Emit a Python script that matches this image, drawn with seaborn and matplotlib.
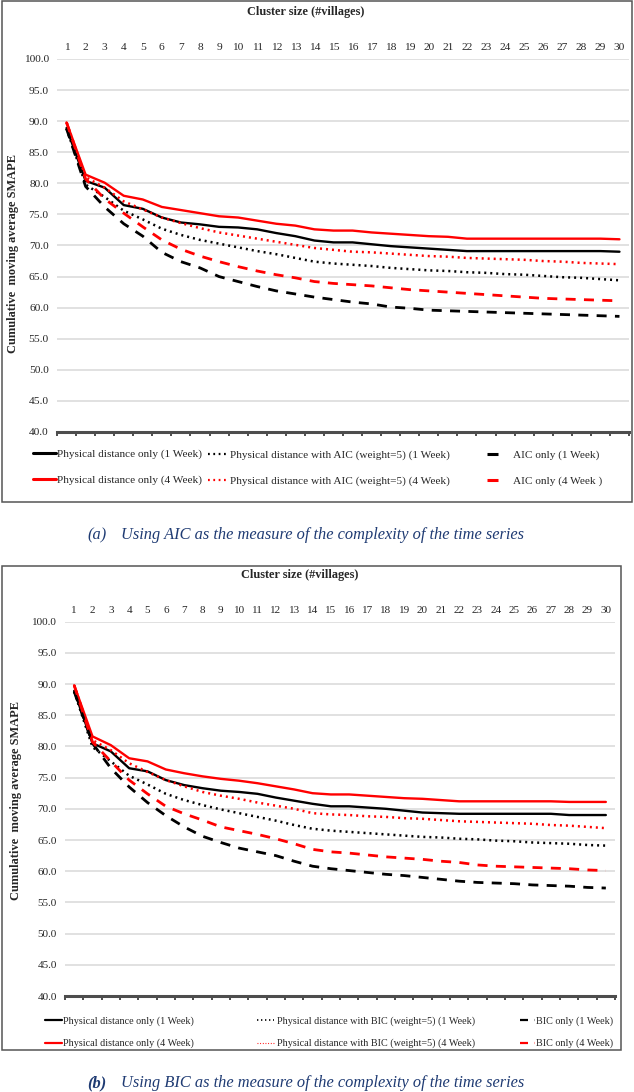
import numpy as np
import matplotlib
matplotlib.use("Agg")
import matplotlib.pyplot as plt
from matplotlib.lines import Line2D
from matplotlib.patches import Rectangle
from matplotlib.ticker import FormatStrFormatter
import seaborn as sns

# ── style ───────────────────────────────────────────────────
sns.set_style("white")
plt.rcParams.update({
    "font.family": ["Liberation Serif", "DejaVu Serif"],
    "axes.spines.top": False,
    "axes.spines.right": False,
    "axes.spines.left": False,
})
BLACK = "#000000"
RED = "#FF0000"
GRID = "#D9D9D9"
AXIS = "#4D4D4D"
CAPTION = "#1F3B73"

W, H = 634, 1092

# ── data ────────────────────────────────────────────────────
clusters = list(range(1, 31))

# (a) AIC
a_pd_1w = [88.9, 80.4, 79.3, 76.5, 75.9, 74.5, 73.7, 73.4, 73.0, 72.9,
           72.6, 72.0, 71.5, 70.8, 70.5, 70.5, 70.2, 69.9, 69.7, 69.5,
           69.3, 69.1, 69.1, 69.1, 69.1, 69.1, 69.1, 69.1, 69.1, 69.0]
a_pd_4w = [89.8, 81.4, 80.1, 78.0, 77.4, 76.2, 75.7, 75.2, 74.7, 74.5,
           74.0, 73.5, 73.2, 72.6, 72.4, 72.4, 72.1, 71.9, 71.7, 71.5,
           71.4, 71.1, 71.1, 71.1, 71.1, 71.1, 71.1, 71.1, 71.1, 71.0]
a_pdaic_1w = [88.8, 79.8, 77.8, 75.6, 74.2, 72.7, 71.7, 70.9, 70.3, 69.7,
              69.1, 68.6, 68.0, 67.4, 67.1, 66.9, 66.7, 66.4, 66.2, 66.0,
              65.9, 65.7, 65.6, 65.4, 65.3, 65.1, 64.9, 64.8, 64.6, 64.4]
a_pdaic_4w = [89.8, 81.0, 79.3, 77.1, 75.8, 74.5, 73.6, 72.8, 72.1, 71.6,
              71.1, 70.6, 70.1, 69.6, 69.3, 69.0, 68.9, 68.7, 68.5, 68.3,
              68.2, 68.0, 67.9, 67.8, 67.7, 67.5, 67.4, 67.2, 67.1, 67.0]
a_aic_1w = [88.8, 79.5, 76.2, 73.5, 71.5, 68.9, 67.4, 66.4, 65.0, 64.2,
            63.4, 62.7, 62.2, 61.7, 61.3, 60.9, 60.6, 60.1, 59.9, 59.6,
            59.5, 59.4, 59.3, 59.2, 59.1, 59.0, 58.9, 58.8, 58.7, 58.6]
a_aic_4w = [89.8, 80.7, 77.5, 75.2, 73.0, 70.9, 69.4, 68.3, 67.4, 66.6,
            65.9, 65.3, 64.8, 64.2, 63.9, 63.7, 63.5, 63.2, 62.9, 62.7,
            62.5, 62.3, 62.1, 61.9, 61.7, 61.5, 61.4, 61.3, 61.2, 61.1]

# (b) BIC
b_pd_1w = [88.9, 80.5, 79.2, 76.5, 76.0, 74.6, 73.8, 73.3, 72.9, 72.7,
           72.4, 71.8, 71.3, 70.8, 70.4, 70.4, 70.2, 70.0, 69.7, 69.4,
           69.3, 69.2, 69.2, 69.2, 69.2, 69.2, 69.2, 69.0, 69.0, 69.0]
b_pd_4w = [89.8, 81.6, 80.2, 78.1, 77.6, 76.3, 75.7, 75.2, 74.8, 74.5,
           74.1, 73.6, 73.1, 72.5, 72.3, 72.3, 72.1, 71.9, 71.7, 71.6,
           71.4, 71.2, 71.2, 71.2, 71.2, 71.2, 71.2, 71.1, 71.1, 71.1]
b_pdbic_1w = [88.8, 79.9, 77.6, 75.3, 73.9, 72.4, 71.4, 70.6, 69.9, 69.3,
              68.7, 68.1, 67.4, 66.8, 66.5, 66.3, 66.1, 65.9, 65.7, 65.5,
              65.4, 65.2, 65.1, 64.9, 64.8, 64.6, 64.5, 64.4, 64.2, 64.1]
b_pdbic_4w = [89.8, 81.0, 79.4, 77.3, 75.9, 74.6, 73.6, 72.7, 72.1, 71.6,
              71.0, 70.5, 70.0, 69.3, 69.1, 69.0, 68.8, 68.7, 68.5, 68.4,
              68.2, 68.0, 67.9, 67.8, 67.7, 67.6, 67.4, 67.3, 67.1, 66.9]
b_bic_1w = [88.8, 80.5, 76.5, 73.5, 71.0, 68.9, 67.1, 65.6, 64.6, 63.7,
            63.1, 62.5, 61.6, 60.8, 60.4, 60.1, 59.8, 59.5, 59.3, 59.0,
            58.7, 58.4, 58.2, 58.1, 58.0, 57.8, 57.7, 57.6, 57.4, 57.3]
b_bic_4w = [89.8, 80.7, 77.6, 74.6, 72.4, 70.4, 69.2, 68.2, 67.1, 66.5,
            65.9, 65.2, 64.4, 63.5, 63.1, 62.9, 62.6, 62.3, 62.1, 61.9,
            61.6, 61.4, 61.0, 60.8, 60.7, 60.6, 60.5, 60.4, 60.2, 60.1]

y_ticks = np.arange(40, 101, 5)

SOLID = "-"
DOT = (0, (0.8, 1.6))
DASH = (0, (3.6, 3.0))


def fx(px):
    return px / W


def fy(py):
    return 1 - py / H


def draw_panel(fig, box, rect, series, title_xy, ylabel_xy, tick_fs):
    # frame around the whole panel
    x0, y0, x1, y1 = box
    fig.patches.append(Rectangle((fx(x0), fy(y1)), fx(x1 - x0), (y1 - y0) / H,
                                 transform=fig.transFigure, fill=False,
                                 edgecolor="#555555", lw=1.1))
    left, top, right, bottom = rect
    ax = fig.add_axes([fx(left), fy(bottom), fx(right - left), (bottom - top) / H])

    for vals, color, ls, lw in series:
        sns.lineplot(x=clusters, y=vals, ax=ax, color=color, linestyle=ls,
                     lw=lw, legend=False)

    ax.set_xlim(0.5, 30.5)
    ax.set_ylim(40, 100)
    ax.set_yticks(y_ticks)
    ax.yaxis.set_major_formatter(FormatStrFormatter("%.1f"))
    ax.set_xticks(clusters)
    ax.set_xticks(np.arange(0.5, 31, 1), minor=True)
    ax.set_xlabel("")
    ax.set_ylabel("")
    ax.yaxis.grid(True, color=GRID, lw=1.1)
    ax.set_axisbelow(True)
    ax.spines["bottom"].set_color(AXIS)
    ax.spines["bottom"].set_linewidth(2.2)
    ax.tick_params(axis="x", which="major", bottom=False, labelbottom=False,
                   top=True, labeltop=True, length=0, pad=5, labelsize=tick_fs)
    ax.tick_params(axis="x", which="minor", bottom=True, top=False,
                   length=3, width=1.4, color=AXIS)
    ax.tick_params(axis="y", length=0, pad=6, labelsize=tick_fs)

    fig.text(fx(title_xy[0]), fy(title_xy[1]), "Cluster size (#villages)",
             ha="center", va="center", fontsize=8.8, fontweight="bold")
    fig.text(fx(ylabel_xy[0]), fy(ylabel_xy[1]), "Cumulative  moving average SMAPE",
             ha="center", va="center", rotation=90, fontsize=8.9, fontweight="bold")
    return ax


def column_legend(fig, handles, labels, x_px, y_px, fs, spacing, hl, pad):
    fig.legend(handles, labels, loc="upper left",
               bbox_to_anchor=(fx(x_px), fy(y_px)), frameon=False,
               borderpad=0, borderaxespad=0, handlelength=hl,
               handletextpad=pad, labelspacing=spacing, fontsize=fs)


def handle(color, ls, lw):
    return Line2D([], [], color=color, linestyle=ls, lw=lw)


fig = plt.figure(figsize=(W / 100, H / 100), dpi=100)
fig.patch.set_facecolor("white")

# ── (a) ─────────────────────────────────────────────────────
series_a = [
    (a_pd_1w, BLACK, SOLID, 1.7),
    (a_pd_4w, RED, SOLID, 1.7),
    (a_pdaic_1w, BLACK, DOT, 1.8),
    (a_pdaic_4w, RED, DOT, 1.8),
    (a_aic_1w, BLACK, DASH, 2.0),
    (a_aic_4w, RED, DASH, 2.0),
]
draw_panel(fig, (2, 1, 632, 502), (57, 59, 629, 432), series_a,
           (306, 12), (13, 253), 8.2)

column_legend(fig, [handle(BLACK, SOLID, 2.2), handle(RED, SOLID, 2.2)],
              ["Physical distance only (1 Week)", "Physical distance only (4 Week)"],
              33, 449, 8.1, 1.4, 2.0, 0.1)
column_legend(fig, [handle(BLACK, DOT, 1.6), handle(RED, DOT, 1.6)],
              ["Physical distance with AIC (weight=5) (1 Week)",
               "Physical distance with AIC (weight=5) (4 Week)"],
              208, 450, 8.1, 1.4, 1.8, 0.2)
column_legend(fig, [handle(BLACK, DASH, 2.2), handle(RED, DASH, 2.2)],
              ["AIC only (1 Week)", "AIC only (4 Week )"],
              487, 450, 8.1, 1.4, 1.8, 0.5)

fig.text(fx(87), fy(535), "(a)", ha="left", va="center", fontsize=11.8,
         style="italic", color=CAPTION)
fig.text(fx(121), fy(535), "Using AIC as the measure of the complexity of the time series",
         ha="left", va="center", fontsize=11.8, style="italic", color=CAPTION)

# ── (b) ─────────────────────────────────────────────────────
series_b = [
    (b_pd_1w, BLACK, SOLID, 1.7),
    (b_pd_4w, RED, SOLID, 1.7),
    (b_pdbic_1w, BLACK, DOT, 1.8),
    (b_pdbic_4w, RED, DOT, 1.8),
    (b_bic_1w, BLACK, DASH, 2.0),
    (b_bic_4w, RED, DASH, 2.0),
]
draw_panel(fig, (2, 566, 621, 1050), (65, 621.6, 615, 996), series_b,
           (300, 575), (16, 800), 8.0)

column_legend(fig, [handle(BLACK, SOLID, 1.6), handle(RED, SOLID, 1.6)],
              ["Physical distance only (1 Week)", "Physical distance only (4 Week)"],
              45, 1016, 7.3, 1.3, 1.7, 0.1)
column_legend(fig, [handle(BLACK, DOT, 1.2), handle(RED, DOT, 0.8)],
              ["Physical distance with BIC (weight=5) (1 Week)",
               "Physical distance with BIC (weight=5) (4 Week)"],
              257, 1016, 7.3, 1.3, 1.7, 0.3)
column_legend(fig, [handle(BLACK, DASH, 1.6), handle(RED, DASH, 1.6)],
              ["BIC only (1 Week)", "BIC only (4 Week)"],
              520, 1016, 7.3, 1.3, 1.5, 0.1)

fig.text(fx(87), fy(1083), "(b)", ha="left", va="center", fontsize=11.8,
         style="italic", fontweight="bold", color=CAPTION)
fig.text(fx(121), fy(1083), "Using BIC as the measure of the complexity of the time series",
         ha="left", va="center", fontsize=11.8, style="italic", color=CAPTION)

fig.savefig("out.png", dpi=100, facecolor="white")
